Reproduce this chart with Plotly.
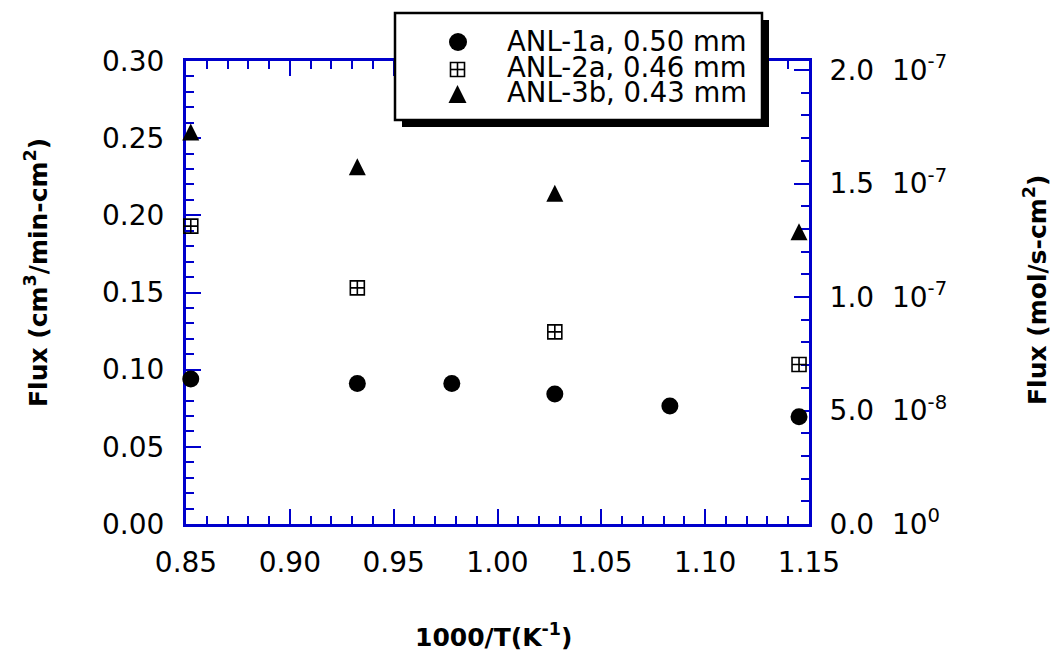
import plotly.graph_objects as go

# ---------------- data ----------------
x_anl1a = [0.8523, 0.9325, 0.978, 1.0276, 1.083, 1.1452]
y_anl1a = [0.094, 0.091, 0.091, 0.0843, 0.0765, 0.0695]
x_anl2a = [0.8523, 0.9325, 1.0276, 1.1452]
y_anl2a = [0.193, 0.153, 0.1245, 0.1033]
x_anl3b = [0.8523, 0.9325, 1.0276, 1.1452]
y_anl3b = [0.254, 0.2315, 0.2143, 0.1893]
series_names = ["ANL-1a, 0.50 mm", "ANL-2a, 0.46 mm", "ANL-3b, 0.43 mm"]

x_tickvals = [0.85, 0.90, 0.95, 1.00, 1.05, 1.10, 1.15]
x_ticktext = ["0.85", "0.90", "0.95", "1.00", "1.05", "1.10", "1.15"]
y_tickvals = [0.0, 0.05, 0.10, 0.15, 0.20, 0.25, 0.30]
y_ticktext = ["0.00", "0.05", "0.10", "0.15", "0.20", "0.25", "0.30"]
y2_tickvals = [0.0, 5e-8, 1e-7, 1.5e-7, 2e-7]
y2_ticktext = ["0.0\u00a0\u00a010<sup>0</sup>", "5.0\u00a0\u00a010<sup>-8</sup>",
               "1.0\u00a0\u00a010<sup>-7</sup>", "1.5\u00a0\u00a010<sup>-7</sup>",
               "2.0\u00a0\u00a010<sup>-7</sup>"]
y2_max = 2.04e-7

# ---------------- layout constants ----------------
W, H = 1053, 650
L, R, T, B = 186, 809, 61, 524
FONT = "DejaVu Sans"
BLUE = "#0000CC"


def px(xp):
    return (xp - L) / (R - L)


def py(yp):
    return (B - yp) / (B - T)


fig = go.Figure()
fig.add_trace(go.Scatter(x=x_anl1a, y=y_anl1a, mode="markers", name=series_names[0],
                         marker=dict(symbol="circle", size=17, color="black", line=dict(width=0)),
                         cliponaxis=False, showlegend=False))
fig.add_trace(go.Scatter(x=x_anl2a, y=y_anl2a, mode="markers", name=series_names[1],
                         marker=dict(symbol="square-cross-open", size=14, color="black",
                                     line=dict(width=1.6, color="black")),
                         cliponaxis=False, showlegend=False))
fig.add_trace(go.Scatter(x=x_anl3b, y=y_anl3b, mode="markers", name=series_names[2],
                         marker=dict(symbol="arrow-down", angle=180, size=17, color="black",
                                     standoff=8.5, line=dict(width=0)),
                         cliponaxis=False, showlegend=False))
# helper trace so the right axis exists
fig.add_trace(go.Scatter(x=[None], y=[None], yaxis="y2", showlegend=False, hoverinfo="skip"))

tickfont = dict(family=FONT, size=28, color="black")

fig.update_layout(
    template="none",
    width=W, height=H,
    margin=dict(l=L, r=W - R, t=T, b=H - B, pad=0),
    paper_bgcolor="white", plot_bgcolor="white",
    showlegend=False,
    xaxis=dict(range=[0.85 - 1e-6, 1.15 + 1e-6], tickmode="array", tickvals=x_tickvals,
               ticktext=x_ticktext, ticks="inside", ticklen=15, tickwidth=2, tickcolor=BLUE,
               showline=True, linecolor=BLUE, linewidth=3, mirror="ticks",
               showgrid=False, zeroline=False, tickfont=tickfont, automargin=False,
               layer="below traces", ticklabelstandoff=11,
               minor=dict(dtick=0.01, tick0=0.85, ticks="inside", ticklen=8, tickwidth=2,
                          tickcolor=BLUE, showgrid=False)),
    yaxis=dict(range=[0, 0.30 + 1e-7], tickmode="array", tickvals=y_tickvals,
               ticktext=y_ticktext, ticks="inside", ticklen=15, tickwidth=2, tickcolor=BLUE,
               showline=True, linecolor=BLUE, linewidth=3, mirror=False,
               showgrid=False, zeroline=False, tickfont=tickfont, automargin=False,
               layer="below traces", ticklabelstandoff=13,
               minor=dict(dtick=0.01, tick0=0, ticks="inside", ticklen=8, tickwidth=2,
                          tickcolor=BLUE, showgrid=False)),
    yaxis2=dict(range=[0, y2_max], overlaying="y", side="right", anchor="x",
                tickmode="array", tickvals=y2_tickvals, ticktext=y2_ticktext,
                ticks="inside", ticklen=15, tickwidth=2, tickcolor=BLUE,
                showline=True, linecolor=BLUE, linewidth=3,
                showgrid=False, zeroline=False, tickfont=tickfont, automargin=False,
                layer="below traces", ticklabelstandoff=12,
                minor=dict(dtick=1e-8, tick0=0, ticks="inside", ticklen=8, tickwidth=2,
                           tickcolor=BLUE, showgrid=False)),
)

# ---------------- custom legend box ----------------
shapes = []
bx0, bx1, by0, by1 = 395, 762, 13, 120
sh = 7
shapes.append(dict(type="rect", xref="paper", yref="paper", layer="above",
                   x0=px(bx0 + sh), x1=px(bx1 + sh), y0=py(by0 + sh), y1=py(by1 + sh),
                   fillcolor="black", line=dict(width=0)))
shapes.append(dict(type="rect", xref="paper", yref="paper", layer="above",
                   x0=px(bx0), x1=px(bx1), y0=py(by0), y1=py(by1),
                   fillcolor="white", line=dict(width=2.5, color="black")))
# circle symbol
cx, cy, rr = 458, 42, 9
shapes.append(dict(type="circle", xref="paper", yref="paper", layer="above",
                   x0=px(cx - rr), x1=px(cx + rr), y0=py(cy - rr), y1=py(cy + rr),
                   fillcolor="black", line=dict(width=0)))
# square-cross symbol
sx, sy, hs = 457.5, 69.5, 7
shapes.append(dict(type="rect", xref="paper", yref="paper", layer="above",
                   x0=px(sx - hs), x1=px(sx + hs), y0=py(sy - hs), y1=py(sy + hs),
                   fillcolor="white", line=dict(width=1.6, color="black")))
shapes.append(dict(type="line", xref="paper", yref="paper", layer="above",
                   x0=px(sx), x1=px(sx), y0=py(sy - hs), y1=py(sy + hs),
                   line=dict(width=1.6, color="black")))
shapes.append(dict(type="line", xref="paper", yref="paper", layer="above",
                   x0=px(sx - hs), x1=px(sx + hs), y0=py(sy), y1=py(sy),
                   line=dict(width=1.6, color="black")))
# triangle symbol
tx, ttop, tbot, thw = 457.5, 85, 103, 9
tri = "M {},{} L {},{} L {},{} Z".format(px(tx), py(ttop), px(tx - thw), py(tbot),
                                          px(tx + thw), py(tbot))
shapes.append(dict(type="path", xref="paper", yref="paper", layer="above", path=tri,
                   fillcolor="black", line=dict(width=0)))
fig.update_layout(shapes=shapes)

annotations = []
row_y = [41, 66.5, 92]
for name, ry in zip(series_names, row_y):
    annotations.append(dict(xref="paper", yref="paper", x=px(505), y=py(ry),
                            xanchor="left", yanchor="middle", showarrow=False, text=name,
                            font=dict(family=FONT, size=27.5, color="black")))

title_font = dict(family=FONT, size=25, color="black")
annotations.append(dict(xref="paper", yref="paper", x=px(493.5), y=py(635),
                        xanchor="center", yanchor="middle", showarrow=False,
                        text="<b>1000/T(K<sup>-1</sup>)</b>", font=title_font))
annotations.append(dict(xref="paper", yref="paper", x=px(36), y=py(273),
                        xanchor="center", yanchor="middle", showarrow=False, textangle=-90,
                        text="<b>Flux (cm<sup>3</sup>/min-cm<sup>2</sup>)</b>", font=title_font))
annotations.append(dict(xref="paper", yref="paper", x=px(1035), y=py(290),
                        xanchor="center", yanchor="middle", showarrow=False, textangle=-90,
                        text="<b>Flux (mol/s-cm<sup>2</sup>)</b>", font=title_font))
fig.update_layout(annotations=annotations)

fig.write_html("out.html")
